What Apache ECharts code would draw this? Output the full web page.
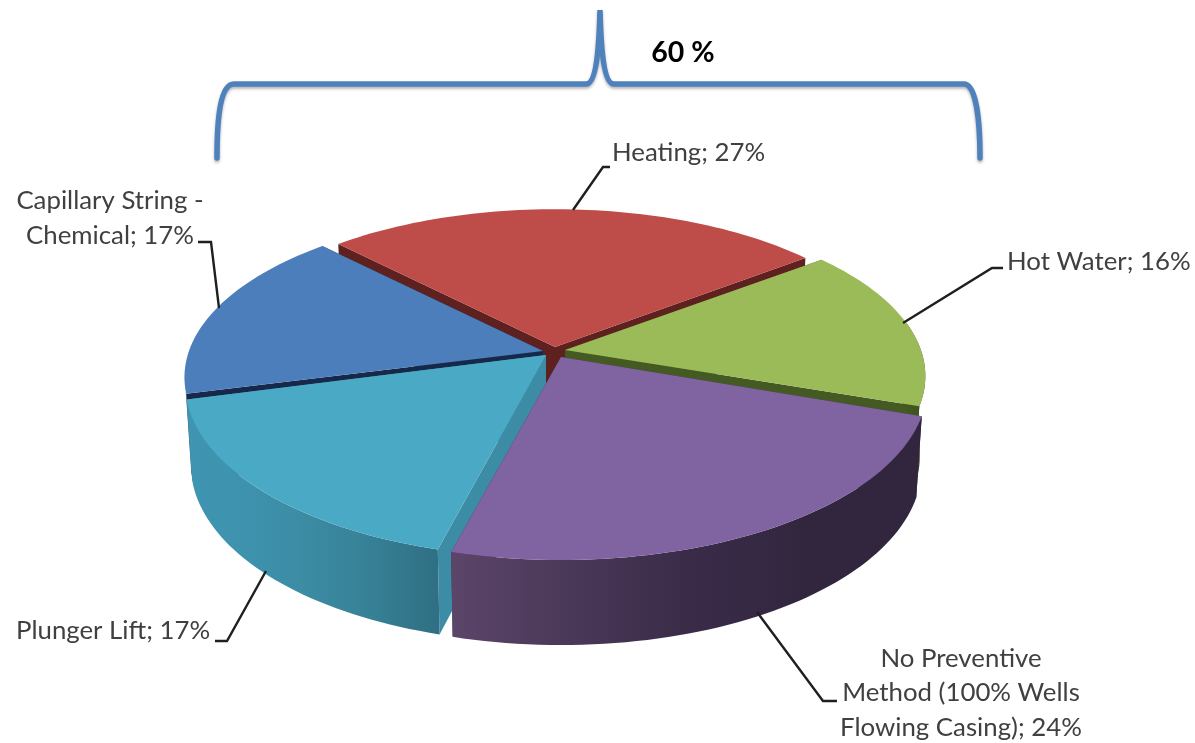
<!DOCTYPE html>
<html>
<head>
<meta charset="utf-8">
<style>html,body{margin:0;padding:0;background:#fff}#chart{width:1195px;height:743px}</style>
<script src="https://cdn.jsdelivr.net/npm/echarts@6/dist/echarts.min.js"></script>
</head>
<body>
<div id="chart"></div>
<script>
// Well deliquification methods, clockwise from the Heating slice
const categories = ['Heating', 'Hot Water', 'No Preventive\nMethod (100% Wells\nFlowing Casing)', 'Plunger Lift', 'Capillary String -\nChemical'];
const shares = [27, 16, 24, 17, 17];
const bracketShare = [60];

const topColors = ['#BE4D4A', '#9BBB59', '#8064A2', '#4AAAC5', '#4C7EBB'];
const cutColors = ['#5E2120', '#445A22', '#3E2F52', '#3C8CA5', '#17294A'];
const rimStops = [
  ['#7A2F2D', '#5E2120'],
  ['#445A22', '#3D5220'],
  ['#5B4569', '#4A3858', '#3A2C49', '#32263F', '#32263F'],
  ['#3F96B2', '#3D90AA', '#388499', '#2F6F83'],
  ['#2A5080', '#1F3C62']
];

// Each slice is pulled out on its own: apex on screen and horizontal/vertical radius of its rim
const apexX = [555, 565, 561, 546, 543];
const apexY = [347, 350, 357, 355, 351];
const rimRadiusX = [0.95, 0.975, 0.99, 0.975, 0.97];
const rimRadiusY = [0.95, 0.965, 1.012, 1.01, 0.97];
const paintRank = [0, 1, 4, 3, 2];

// Disc seen from above: a homography of the unit circle
const START_DEG = -44;
const PERSPECTIVE = 0.163;
const SCALE_X = 365;
const SCALE_Y = 167.5;
const BASE_CX = 555;
// Only this stretch of the rim faces the viewer
const RIM_FROM_DEG = 80;
const RIM_TO_DEG = 256;
const TOTAL = shares.reduce((a, b) => a + b, 0);

const labelStyle = [
  { x: 612, y: 153, align: 'left' },
  { x: 1007, y: 262, align: 'left' },
  { x: 961, y: 693, align: 'center' },
  { x: 16, y: 631, align: 'left' },
  { x: 110, y: 218, align: 'center' }
];
const leaders = [
  [[573, 210], [603, 167], [610, 167]],
  [[903, 323], [992, 268], [1003, 268]],
  [[757, 612], [823, 701], [837, 701]],
  [[215, 641], [227, 641], [266, 571]],
  [[198, 242], [211, 242], [219, 308]]
];

function project(i, deg, lower) {
  const t = deg * Math.PI / 180;
  const u = rimRadiusX[i] * Math.sin(t);
  const v = -rimRadiusY[i] * Math.cos(t);
  const w = 1 - PERSPECTIVE * v;
  let x = apexX[i] + SCALE_X * u / w;
  let y = apexY[i] + SCALE_Y * v / w;
  if (lower) {
    x = BASE_CX + (x - BASE_CX) * 0.985;
    y += 80 + 5 * v;
  }
  return [x, y];
}

function arc(i, from, to, lower) {
  const pts = [];
  const n = Math.ceil(Math.abs(to - from) / 1.5);
  for (let k = 0; k <= n; k++) pts.push(project(i, from + (to - from) * k / n, lower));
  return pts;
}

function sliceRange(i) {
  let sum = 0;
  for (let k = 0; k < i; k++) sum += shares[k];
  return [START_DEG + sum / TOTAL * 360, START_DEG + (sum + shares[i]) / TOTAL * 360];
}

function rimGradient(i) {
  const stops = rimStops[i];
  return new echarts.graphic.LinearGradient(0, 0, 1, 0,
    stops.map((color, k) => ({ offset: k / (stops.length - 1), color })));
}

function renderSlice(params) {
  const i = params.dataIndex;
  const [a, b] = sliceRange(i);
  const z = paintRank[i] * 10;
  const apexTop = [apexX[i], apexY[i]];
  const apexLow = [apexX[i], apexY[i] + 80];
  const startTop = project(i, a, false);
  const startLow = project(i, a, true);
  const endTop = project(i, b, false);
  const endLow = project(i, b, true);
  const children = [
    { type: 'polygon', z2: z, shape: { points: [apexTop, startTop, startLow, apexLow] }, style: { fill: cutColors[i] } },
    { type: 'polygon', z2: z + 1, shape: { points: [apexTop, endTop, endLow, apexLow] }, style: { fill: cutColors[i] } },
    { type: 'polygon', z2: z + 3, shape: { points: [apexTop].concat(arc(i, a, b, false)) }, style: { fill: topColors[i] } },
    { type: 'polyline', z2: 100, shape: { points: leaders[i] }, style: { stroke: '#1f1f1f', lineWidth: 2.4, fill: null } },
    {
      type: 'text', z2: 101,
      style: {
        text: categories[i] + '; ' + shares[i] + '%',
        x: labelStyle[i].x, y: labelStyle[i].y,
        align: labelStyle[i].align, verticalAlign: 'middle',
        font: '25.8px Lato, "Noto Sans", sans-serif',
        lineHeight: 34.5,
        fill: '#404040'
      }
    }
  ];
  const rimA = Math.max(a, RIM_FROM_DEG);
  const rimB = Math.min(b, RIM_TO_DEG);
  if (rimB > rimA) {
    children.push({
      type: 'polygon', z2: z + 2,
      shape: { points: arc(i, rimA, rimB, false).concat(arc(i, rimB, rimA, true)) },
      style: { fill: rimGradient(i) }
    });
  }
  return { type: 'group', children };
}

// Curly bracket over the three upper slices, with its combined share
function renderBracket(params, api) {
  return {
    type: 'group',
    children: [
      {
        type: 'path',
        shape: {
          pathData: 'M217 158 C217 120 220 84 234 84 L586 84 C596 84 599 50 600 10 C601 50 604 84 614 84 L964 84 C976 84 980 120 980 158',
          x: 217, y: 10, width: 763, height: 148, layout: 'cover'
        },
        style: {
          stroke: '#4F81BD', lineWidth: 5.5, fill: null, lineCap: 'round',
          shadowColor: 'rgba(0,0,0,0.3)', shadowBlur: 3, shadowOffsetY: 2
        }
      },
      {
        type: 'text',
        style: {
          text: api.value(0) + ' %', x: 683, y: 53, align: 'center', verticalAlign: 'middle',
          font: 'bold 28.5px Lato, "Noto Sans", sans-serif', fill: '#000'
        }
      }
    ]
  };
}

const chart = echarts.init(document.getElementById('chart'), null, { renderer: 'canvas' });
chart.setOption({
  animation: false,
  backgroundColor: '#ffffff',
  series: [
    { type: 'custom', coordinateSystem: 'none', silent: true, renderItem: renderSlice, data: shares },
    { type: 'custom', coordinateSystem: 'none', silent: true, renderItem: renderBracket, data: bracketShare }
  ]
});
</script>
</body>
</html>
